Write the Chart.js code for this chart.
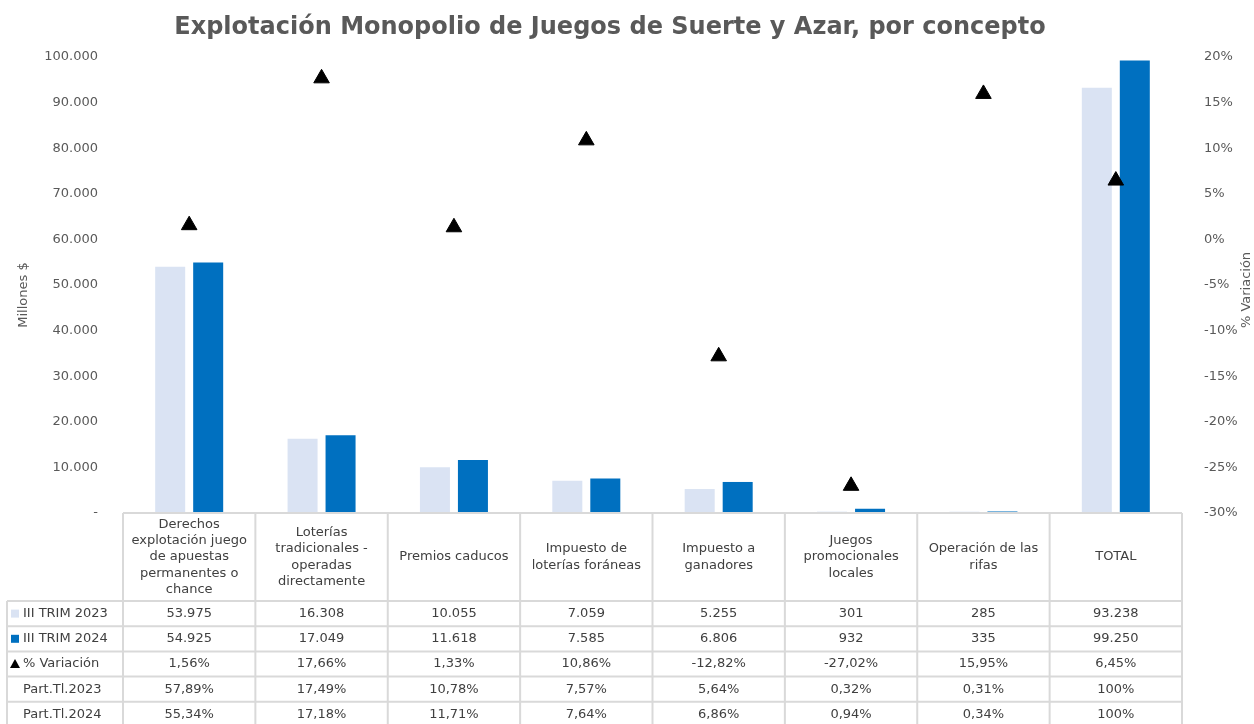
<!DOCTYPE html>
<html>
<head>
<meta charset="utf-8">
<script src="https://cdn.jsdelivr.net/npm/chart.js@4.4.1/dist/chart.umd.min.js"></script>
<style>
  html, body { margin: 0; padding: 0; background: #fff; }
  #wrap { width: 1254px; height: 724px; }
</style>
</head>
<body>
<div id="wrap"><canvas id="chart"></canvas></div>
<script>
// Data
const chartTitle = 'Explotación Monopolio de Juegos de Suerte y Azar, por concepto';
const categories = [
    ['Derechos', 'explotación juego', 'de apuestas', 'permanentes o', 'chance'],
    ['Loterías', 'tradicionales -', 'operadas', 'directamente'],
    ['Premios caducos'],
    ['Impuesto de', 'loterías foráneas'],
    ['Impuesto a', 'ganadores'],
    ['Juegos', 'promocionales', 'locales'],
    ['Operación de las', 'rifas'],
    ['TOTAL']
];
const trim2023 = [53975, 16308, 10055, 7059, 5255, 301, 285, 93238];
const trim2024 = [54925, 17049, 11618, 7585, 6806, 932, 335, 99250];
const variacion = [1.56, 17.66, 1.33, 10.86, -12.82, -27.02, 15.95, 6.45];
const partTl2023 = ['57,89%', '17,49%', '10,78%', '7,57%', '5,64%', '0,32%', '0,31%', '100%'];
const partTl2024 = ['55,34%', '17,18%', '11,71%', '7,64%', '6,86%', '0,94%', '0,34%', '100%'];
const leftTicks = [0, 10000, 20000, 30000, 40000, 50000, 60000, 70000, 80000, 90000, 100000];
const rightTicks = [-30, -25, -20, -15, -10, -5, 0, 5, 10, 15, 20];

const FONT = '"DejaVu Sans", Verdana, sans-serif';
const color2023 = '#dae3f3';
const color2024 = '#0070c0';
const textGray = '#595959';

function fmtMiles(v) {
    if (v === 0) return '-';
    return v.toString().replace(/\B(?=(\d{3})+(?!\d))/g, '.');
}
function fmtPct(v) {
    return v.toFixed(2).replace('.', ',') + '%';
}

// Draws title, the data table under the bars and the rotated axis titles
const tablePlugin = {
    id: 'dataTable',
    afterDraw(chart) {
        const ctx = chart.ctx;
        const xs = chart.scales.x;
        const area = chart.chartArea;
        const colW = (area.right - area.left) / categories.length;
        const top = area.bottom;
        const headBottom = 601;
        const rowH = 25.2;
        const labelLeft = 7;
        const rows = [
            { label: 'III TRIM 2023', key: 'sq1', vals: trim2023.map(fmtMiles) },
            { label: 'III TRIM 2024', key: 'sq2', vals: trim2024.map(fmtMiles) },
            { label: '% Variación', key: 'tri', vals: variacion.map(fmtPct) },
            { label: 'Part.Tl.2023', key: null, vals: partTl2023 },
            { label: 'Part.Tl.2024', key: null, vals: partTl2024 }
        ];

        ctx.save();
        // title
        ctx.fillStyle = textGray;
        ctx.font = 'bold 24px ' + FONT;
        ctx.textAlign = 'center';
        ctx.textBaseline = 'middle';
        ctx.fillText(chartTitle, 610, 28);

        ctx.strokeStyle = '#d9d9d9';
        ctx.lineWidth = 2;
        ctx.beginPath();
        ctx.moveTo(area.left, top); ctx.lineTo(area.right, top);
        for (let r = 0; r <= rows.length; r++) {
            const y = headBottom + r * rowH;
            ctx.moveTo(labelLeft, y); ctx.lineTo(area.right, y);
        }
        for (let c = 0; c <= categories.length; c++) {
            const x = area.left + c * colW;
            ctx.moveTo(x, top); ctx.lineTo(x, 724);
        }
        ctx.moveTo(labelLeft, headBottom); ctx.lineTo(labelLeft, 724);
        ctx.stroke();

        ctx.font = '13px ' + FONT;
        ctx.fillStyle = '#404040';
        // header cells
        const lh = 16.4;
        const headMid = (top + headBottom) / 2;
        categories.forEach((lines, i) => {
            const cx = xs.getPixelForValue(i);
            const y0 = headMid - (lines.length - 1) * lh / 2;
            lines.forEach((t, j) => ctx.fillText(t, cx, y0 + j * lh));
        });
        // body rows
        rows.forEach((row, r) => {
            const cy = headBottom + r * rowH + rowH / 2;
            row.vals.forEach((v, i) => {
                ctx.fillText(v, xs.getPixelForValue(i), cy);
            });
            ctx.textAlign = 'left';
            ctx.fillText(row.label, 23, cy);
            if (row.key === 'sq1' || row.key === 'sq2') {
                ctx.fillStyle = row.key === 'sq1' ? color2023 : color2024;
                ctx.fillRect(11, cy - 4, 8, 8);
            } else if (row.key === 'tri') {
                ctx.fillStyle = '#000';
                ctx.beginPath();
                ctx.moveTo(15, cy - 5);
                ctx.lineTo(20, cy + 4);
                ctx.lineTo(10, cy + 4);
                ctx.closePath();
                ctx.fill();
            }
            ctx.fillStyle = '#404040';
            ctx.textAlign = 'center';
        });

        // axis titles (both read bottom to top)
        ctx.fillStyle = textGray;
        ctx.font = '13px ' + FONT;
        ctx.translate(24, 295);
        ctx.rotate(-Math.PI / 2);
        ctx.fillText('Millones $', 0, 0);
        ctx.setTransform(1, 0, 0, 1, 0, 0);
        ctx.translate(1247, 290);
        ctx.rotate(-Math.PI / 2);
        ctx.fillText('% Variación', 0, 0);
        ctx.restore();
    }
};

new Chart(document.getElementById('chart'), {
    data: {
        labels: categories,
        datasets: [
            {
                type: 'line',
                label: '% Variación',
                data: variacion,
                yAxisID: 'y1',
                showLine: false,
                pointStyle: 'triangle',
                pointRadius: 9,
                backgroundColor: '#000',
                borderColor: '#000',
                order: 0
            },
            {
                type: 'bar',
                label: 'III TRIM 2023',
                data: trim2023,
                yAxisID: 'y',
                backgroundColor: color2023,
                categoryPercentage: 0.574,
                barPercentage: 0.79,
                order: 1
            },
            {
                type: 'bar',
                label: 'III TRIM 2024',
                data: trim2024,
                yAxisID: 'y',
                backgroundColor: color2024,
                categoryPercentage: 0.574,
                barPercentage: 0.79,
                order: 1
            }
        ]
    },
    options: {
        responsive: true,
        maintainAspectRatio: false,
        animation: false,
        layout: { padding: { top: 57, bottom: 211, left: 0, right: 0 } },
        plugins: {
            legend: { display: false },
            tooltip: { enabled: false },
            title: { display: false }
        },
        scales: {
            x: { display: false },
            y: {
                position: 'left',
                min: 0,
                max: 100000,
                afterBuildTicks: (s) => { s.ticks = leftTicks.map(v => ({ value: v })); },
                afterFit: (s) => { s.width = 123; },
                grid: { display: false },
                border: { display: false },
                ticks: {
                    color: textGray,
                    padding: 17,
                    font: { family: FONT, size: 13 },
                    callback: (v) => fmtMiles(v)
                }
            },
            y1: {
                position: 'right',
                min: -30,
                max: 20,
                afterBuildTicks: (s) => { s.ticks = rightTicks.map(v => ({ value: v })); },
                afterFit: (s) => { s.width = 72; },
                grid: { display: false },
                border: { display: false },
                ticks: {
                    color: textGray,
                    padding: 14,
                    font: { family: FONT, size: 13 },
                    callback: (v) => v + '%'
                }
            }
        }
    },
    plugins: [tablePlugin]
});
</script>
</body>
</html>
